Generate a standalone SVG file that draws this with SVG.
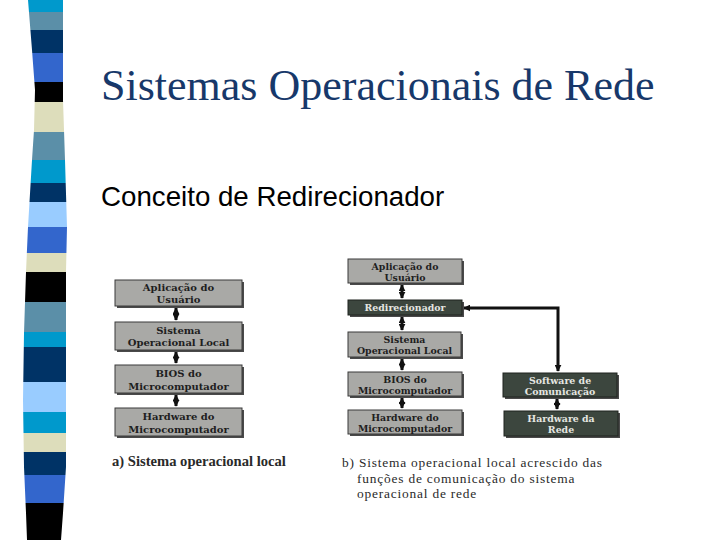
<svg xmlns="http://www.w3.org/2000/svg" width="720" height="540" viewBox="0 0 720 540">
<defs>
<clipPath id="band">
<path d="M28,0 L32,50 L35,90 L34,130 L32,160 L28,227 L26,272 L24,333 L23,400 L24,467 L26,513 L27,540 L61,540 L63,513 L66,467 L66,400 L66,333 L66,272 L67,227 L65,160 L63,100 L63,0 Z"/>
</clipPath>
<marker id="ah" viewBox="0 0 10 10" refX="9" refY="5" markerWidth="7" markerHeight="7" markerUnits="userSpaceOnUse" orient="auto-start-reverse">
<path d="M0,0 L10,5 L0,10 Z" fill="#111"/>
</marker>
</defs>
<style>
.title{font-family:"Liberation Serif","Times New Roman",serif;font-size:44px;fill:#17386a}
.sub{font-family:"Liberation Sans",Arial,sans-serif;font-size:27.7px;fill:#000}
.lt{fill:#a9a9a6;stroke:#3a3a3a;stroke-width:1}
.dk{fill:#3c463e;stroke:#1e231f;stroke-width:1}
.sh{fill:#4a4a4a}
.tl{font-family:"DejaVu Serif",serif;font-weight:bold;fill:#1e1e1e;text-anchor:middle}
.td{font-family:"DejaVu Serif",serif;font-weight:bold;fill:#e6e6e2;text-anchor:middle}
.fa{font-size:10px}
.fb{font-size:9.4px}
.conn line,.conn polyline{stroke:#111;stroke-width:3;fill:none}
.cap{font-family:"Liberation Serif","Times New Roman",serif;font-size:13.4px;fill:#2a2a2a;letter-spacing:0.8px}
.capa{font-family:"Liberation Serif","Times New Roman",serif;font-size:14.6px;font-weight:bold;fill:#2a2a2a}
</style>

<g id="stripes" clip-path="url(#band)">
<rect x="20" y="0" width="50" height="12" fill="#0099cc"/>
<rect x="20" y="12" width="50" height="18" fill="#5b8fa8"/>
<rect x="20" y="30" width="50" height="23" fill="#003366"/>
<rect x="20" y="53" width="50" height="29" fill="#3366cc"/>
<rect x="20" y="82" width="50" height="20" fill="#000000"/>
<rect x="20" y="102" width="50" height="30" fill="#ddddbb"/>
<rect x="20" y="132" width="50" height="28" fill="#5b8fa8"/>
<rect x="20" y="160" width="50" height="23" fill="#0099cc"/>
<rect x="20" y="183" width="50" height="19" fill="#003366"/>
<rect x="20" y="202" width="50" height="25" fill="#99ccff"/>
<rect x="20" y="227" width="50" height="26" fill="#3366cc"/>
<rect x="20" y="253" width="50" height="19" fill="#ddddbb"/>
<rect x="20" y="272" width="50" height="30" fill="#000000"/>
<rect x="20" y="302" width="50" height="30" fill="#5b8fa8"/>
<rect x="20" y="332" width="50" height="15" fill="#0099cc"/>
<rect x="20" y="347" width="50" height="35" fill="#003366"/>
<rect x="20" y="382" width="50" height="30" fill="#99ccff"/>
<rect x="20" y="412" width="50" height="21" fill="#0099cc"/>
<rect x="20" y="433" width="50" height="19" fill="#ddddbb"/>
<rect x="20" y="452" width="50" height="23" fill="#003366"/>
<rect x="20" y="475" width="50" height="28" fill="#3366cc"/>
<rect x="20" y="503" width="50" height="37" fill="#000000"/>
</g>

<text class="title" x="101" y="100">Sistemas Operacionais de Rede</text>
<text class="sub" x="101" y="206">Conceito de Redirecionador</text>

<g class="conn" id="connectors">
<line x1="176" y1="308" x2="176" y2="320" marker-start="url(#ah)" marker-end="url(#ah)"/>
<line x1="176" y1="352" x2="176" y2="363" marker-start="url(#ah)" marker-end="url(#ah)"/>
<line x1="176" y1="395" x2="176" y2="406" marker-start="url(#ah)" marker-end="url(#ah)"/>
<line x1="402" y1="285" x2="402" y2="298" marker-start="url(#ah)" marker-end="url(#ah)"/>
<line x1="402" y1="317" x2="402" y2="330" marker-start="url(#ah)" marker-end="url(#ah)"/>
<line x1="402" y1="359" x2="402" y2="370" marker-start="url(#ah)" marker-end="url(#ah)"/>
<line x1="402" y1="398" x2="402" y2="408" marker-start="url(#ah)" marker-end="url(#ah)"/>
<polyline points="464,308 558,308 558,371" marker-start="url(#ah)" marker-end="url(#ah)"/>
<line x1="557" y1="399" x2="557" y2="409" marker-start="url(#ah)" marker-end="url(#ah)"/>
</g>

<g id="a-aplicacao">
<rect class="sh" x="117" y="282" width="127" height="26"/>
<rect class="lt" x="115" y="280" width="127" height="26"/>
<text class="tl fa" x="178.5" y="291">Aplicação do</text>
<text class="tl fa" x="178.5" y="303">Usuário</text>
</g>
<g id="a-sistema">
<rect class="sh" x="117" y="324" width="127" height="28"/>
<rect class="lt" x="115" y="322" width="127" height="28"/>
<text class="tl fa" x="178.5" y="334">Sistema</text>
<text class="tl fa" x="178.5" y="346">Operacional Local</text>
</g>
<g id="a-bios">
<rect class="sh" x="117" y="367" width="127" height="28"/>
<rect class="lt" x="115" y="365" width="127" height="28"/>
<text class="tl fa" x="178.5" y="377">BIOS do</text>
<text class="tl fa" x="178.5" y="389.5">Microcomputador</text>
</g>
<g id="a-hardware">
<rect class="sh" x="117" y="410" width="127" height="28"/>
<rect class="lt" x="115" y="408" width="127" height="28"/>
<text class="tl fa" x="178.5" y="420">Hardware do</text>
<text class="tl fa" x="178.5" y="432.5">Microcomputador</text>
</g>

<g id="b-aplicacao">
<rect class="sh" x="350" y="261" width="114" height="24"/>
<rect class="lt" x="348" y="259" width="114" height="24"/>
<text class="tl fb" x="405" y="269.5">Aplicação do</text>
<text class="tl fb" x="405" y="280.5">Usuário</text>
</g>
<g id="b-redirecionador">
<rect class="sh" x="350" y="302" width="114" height="15"/>
<rect class="dk" x="348" y="300" width="114" height="15"/>
<text class="td fb" x="405" y="311">Redirecionador</text>
</g>
<g id="b-sistema">
<rect class="sh" x="350" y="334" width="113" height="25"/>
<rect class="lt" x="348" y="332" width="113" height="25"/>
<text class="tl fb" x="404.5" y="342.5">Sistema</text>
<text class="tl fb" x="404.5" y="354">Operacional Local</text>
</g>
<g id="b-bios">
<rect class="sh" x="350" y="374" width="114" height="24"/>
<rect class="lt" x="348" y="372" width="114" height="24"/>
<text class="tl fb" x="405" y="382.5">BIOS do</text>
<text class="tl fb" x="405" y="393.5">Microcomputador</text>
</g>
<g id="b-hardware">
<rect class="sh" x="350" y="412" width="114" height="24"/>
<rect class="lt" x="348" y="410" width="114" height="24"/>
<text class="tl fb" x="405" y="420.5">Hardware do</text>
<text class="tl fb" x="405" y="431.5">Microcomputador</text>
</g>
<g id="b-software">
<rect class="sh" x="505" y="375" width="114" height="24"/>
<rect class="dk" x="503" y="373" width="114" height="24"/>
<text class="td fb" x="560" y="383.5">Software de</text>
<text class="td fb" x="560" y="394.5">Comunicação</text>
</g>
<g id="b-hwrede">
<rect class="sh" x="506" y="413" width="114" height="25"/>
<rect class="dk" x="504" y="411" width="114" height="25"/>
<text class="td fb" x="561" y="421.5">Hardware da</text>
<text class="td fb" x="561" y="432.5">Rede</text>
</g>

<g id="captions">
<text class="capa" x="112" y="466">a) Sistema operacional local</text>
<text class="cap" x="342" y="467">b) Sistema operacional local acrescido das</text>
<text class="cap" x="357" y="482.5">funções de comunicação do sistema</text>
<text class="cap" x="357" y="498">operacional de rede</text>
</g>
</svg>
